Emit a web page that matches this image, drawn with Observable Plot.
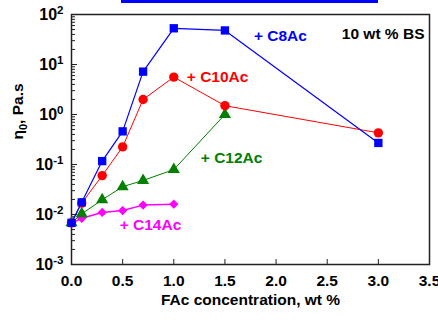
<!DOCTYPE html>
<html>
<head>
<meta charset="utf-8">
<script src="https://cdn.jsdelivr.net/npm/d3@7"></script>
<script src="https://cdn.jsdelivr.net/npm/@observablehq/plot@0.6"></script>
<style>
  html, body { margin: 0; padding: 0; background: #fff; }
  #wrap { position: relative; width: 438px; height: 320px; }
  #bar { position: absolute; left: 121px; top: 0; width: 257px; height: 3px; background: #0000ff; }
</style>
</head>
<body>
<div id="wrap"><div id="bar"></div><div id="chart"></div></div>
<script>
// FAc concentration (wt %)
const conc = [0, 0.1, 0.3, 0.5, 0.7, 1.0, 1.5, 3.0];
// zero-shear viscosity eta0 (Pa.s)
const c8Ac  = [0.0068, 0.0175, 0.117, 0.46, 7.2, 53, 48, 0.27];
const c10Ac = [0.0068, 0.0169, 0.060, 0.225, 2.0, 5.6, 1.5, 0.43];
const c12Ac = [0.0068, 0.0103, 0.0197, 0.036, 0.048, 0.079, 1.0];
const c14Ac = [0.0067, 0.0084, 0.011, 0.012, 0.0154, 0.0161];
const seriesNames = ["+ C8Ac", "+ C10Ac", "+ C12Ac", "+ C14Ac"];
const xTicks = [0, 0.5, 1.0, 1.5, 2.0, 2.5, 3.0, 3.5];
const yTicks = [1e-3, 1e-2, 1e-1, 1, 10, 100];

const yMinor = [];
for (const t of yTicks.slice(0, -1)) for (let k = 2; k <= 9; k++) yMinor.push(t * k);

const mk = (vals) => vals.map((v, i) => ({x: conc[i], y: v}));
const s8 = mk(c8Ac), s10 = mk(c10Ac), s12 = mk(c12Ac), s14 = mk(c14Ac);

const blue = "#0000ff", red = "#ff0000", green = "#008000", magenta = "#ff00ff";

const chart = Plot.plot({
  width: 438, height: 320,
  marginLeft: 71, marginRight: 9, marginTop: 14, marginBottom: 56,
  style: {fontFamily: "'Liberation Sans', Arial, sans-serif", fontWeight: "bold", fontSize: "15px", background: "#fff", color: "#000"},
  x: {domain: [0, 3.5]},
  y: {type: "log", domain: [1e-3, 1e2]},
  marks: [
    Plot.frame({stroke: "#222", strokeWidth: 1.5}),
    Plot.axisX(xTicks, {tickSize: 0, tickPadding: 10, tickFormat: d3.format(".1f"), fontSize: 15.5, label: null}),
    Plot.axisY(yTicks, {tickSize: 0, tickPadding: 8, tickFormat: d => "10^" + Math.round(Math.log10(d)), fontSize: 16, label: null, ariaLabel: "y-axis"}),
    Plot.tickX(xTicks, {x: d => d, insetTop: 245, stroke: "#222"}),
    Plot.tickY(yTicks, {y: d => d, insetRight: 352, stroke: "#222"}),
    Plot.tickY(yMinor, {y: d => d, insetRight: 354, stroke: "#222"}),
    Plot.line(s14, {x: "x", y: "y", stroke: magenta, strokeWidth: 1.5}),
    Plot.line(s12, {x: "x", y: "y", stroke: green, strokeWidth: 1}),
    Plot.line(s10, {x: "x", y: "y", stroke: red, strokeWidth: 1}),
    Plot.line(s8, {x: "x", y: "y", stroke: blue, strokeWidth: 1.2}),
    Plot.dot(s14, {x: "x", y: "y", symbol: "diamond2", r: 4.2, fill: magenta}),
    Plot.dot(s12, {x: "x", y: "y", symbol: "triangle", r: 4.5, fill: green}),
    Plot.dot(s10, {x: "x", y: "y", symbol: "circle", r: 4.7, fill: red}),
    Plot.dot(s8, {x: "x", y: "y", symbol: "square", r: 4.7, fill: blue}),
    Plot.text([s8[6]], {x: "x", y: "y", text: () => seriesNames[0], dx: 29, dy: 6, textAnchor: "start", fill: blue, fontSize: 15.5}),
    Plot.text([s10[5]], {x: "x", y: "y", text: () => seriesNames[1], dx: 13, dy: 0, textAnchor: "start", fill: red, fontSize: 15.5}),
    Plot.text([s12[5]], {x: "x", y: "y", text: () => seriesNames[2], dx: 27, dy: -12, textAnchor: "start", fill: green, fontSize: 15.5}),
    Plot.text([s14[3]], {x: "x", y: "y", text: () => seriesNames[3], dx: -3, dy: 14, textAnchor: "start", fill: magenta, fontSize: 15.5}),
    Plot.text(["10 wt % BS"], {frameAnchor: "top-right", dx: -5, dy: 13, textAnchor: "end", fill: "#000", fontSize: 15.5}),
    Plot.text(["FAc concentration, wt %"], {frameAnchor: "bottom", dy: 40, fill: "#000", fontSize: 15.5}),
    Plot.text(["η_0, Pa.s"], {frameAnchor: "left", dx: -53, rotate: -90, fill: "#000", fontSize: 15.5})
  ]
});
document.getElementById("chart").appendChild(chart);

// Turn "base^exp" and "a_b" into real super/subscripts
const NS = "http://www.w3.org/2000/svg";
chart.querySelectorAll("text").forEach(t => {
  const s = t.textContent;
  let m;
  if ((m = s.match(/^(10)\^(-?\d+)$/))) {
    t.textContent = "";
    t.appendChild(document.createTextNode(m[1]));
    const sp = document.createElementNS(NS, "tspan");
    sp.setAttribute("font-size", "11.5");
    sp.setAttribute("dy", "-6");
    sp.textContent = m[2];
    t.appendChild(sp);
  } else if ((m = s.match(/^(.)_(\d)(.*)$/))) {
    t.textContent = "";
    t.appendChild(document.createTextNode(m[1]));
    const sb = document.createElementNS(NS, "tspan");
    sb.setAttribute("font-size", "11");
    sb.setAttribute("dy", "4");
    sb.textContent = m[2];
    t.appendChild(sb);
    const rest = document.createElementNS(NS, "tspan");
    rest.setAttribute("dy", "-4");
    rest.textContent = m[3];
    t.appendChild(rest);
  }
});
</script>
</body>
</html>
